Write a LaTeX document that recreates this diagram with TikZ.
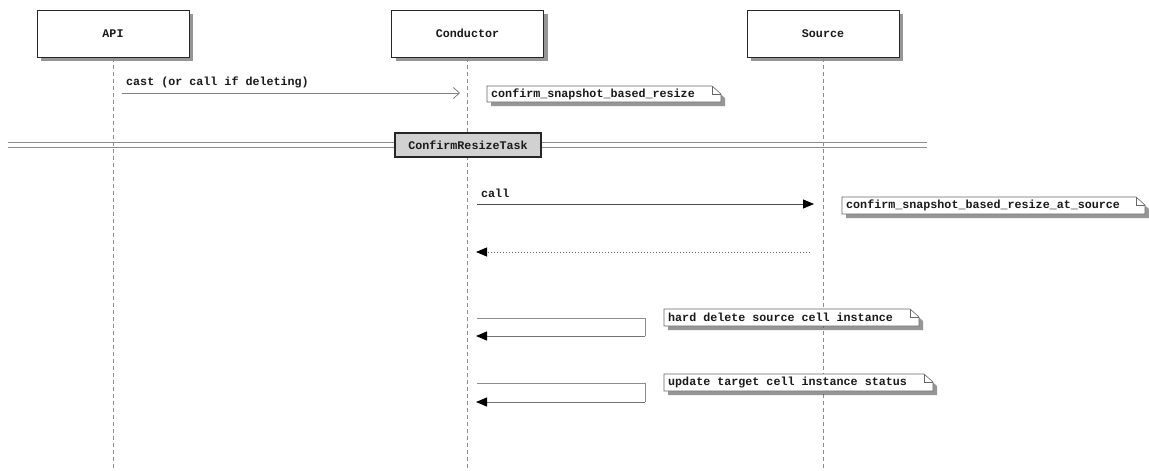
\documentclass[tikz,border=0pt]{standalone}
\usepackage{fontspec}
\setmonofont{Liberation Mono}
\usetikzlibrary{arrows.meta,shadows,calc}
\begin{document}
\begin{tikzpicture}[x=1pt,y=-1pt,
  every node/.style={font=\ttfamily\bfseries\fontsize{11.7}{13}\selectfont, text=black!90},
  partbox/.style={draw=black!85, line width=1pt, fill=white, minimum width=152pt, minimum height=47pt, inner sep=0pt,
    drop shadow={shadow xshift=4pt, shadow yshift=-4pt, opacity=0.55, fill=black!75}},
  lifeline/.style={draw=black!45, dash pattern=on 4pt off 3pt, line width=0.7pt},
  notetext/.style={inner sep=0pt, anchor=west},
  noteshape/.style={draw=black!60, line width=0.6pt, fill=white,
    drop shadow={shadow xshift=4pt, shadow yshift=-4pt, opacity=0.55, fill=black!75}},
  notefold/.style={draw=black!60, line width=0.6pt},
  asyncmsg/.style={draw=black!50, line width=0.8pt, -{Straight Barb[length=6pt,width=11pt,line width=0.8pt]}},
  syncmsg/.style={draw=black!70, line width=0.8pt, -{Triangle[length=11pt,width=9pt,fill=black,color=black]}},
  retmsg/.style={draw=black!60, line width=0.8pt, dash pattern=on 1.5pt off 1.5pt, -{Triangle[length=11pt,width=9pt,fill=black,color=black]}},
  selfmsg/.style={draw=black!45, line width=0.9pt},
  selfarr/.style={draw=black!55, line width=0.9pt, -{Triangle[length=11pt,width=9pt,fill=black,color=black]}},
  divbox/.style={draw=black!85, line width=1.2pt, fill=black!18, minimum width=146pt, minimum height=24pt, inner sep=0pt},
  msglabel/.style={anchor=base west, inner sep=0pt}
]
\useasboundingbox (0,0) rectangle (1149,471);
\fill[white] (0,0) rectangle (1149,471);

% participants
\node[partbox] (api) at (113,33.5) {API};
\node[partbox] (cond) at (467.5,33.5) {Conductor};
\node[partbox] (src) at (823,33.5) {Source};

% lifeline ends
\coordinate (apiend) at (113,471);
\coordinate (condend) at (467.5,471);
\coordinate (srcend) at (823,471);
\draw[lifeline] (api.south) -- (apiend);
\draw[lifeline] (cond.south) -- (condend);
\draw[lifeline] (src.south) -- (srcend);

% message 1
\coordinate (m1s) at (122,93);
\coordinate (m1e) at (460,93);
\draw[asyncmsg] (m1s) -- (m1e);
\node[msglabel] (m1l) at (126,85) {cast (or call if deleting)};

% note 1
\coordinate (n1nw) at (487,86);
\coordinate (n1se) at (721,102);
\draw[noteshape] (n1nw) -- ($(n1se|-n1nw)+(-9,0)$) -- ($(n1se|-n1nw)+(0,8)$) -- (n1se) -- (n1nw|-n1se) -- cycle;
\draw[notefold] ($(n1se|-n1nw)+(-9,0)$) |- ($(n1se|-n1nw)+(0,8)$);
\node[notetext] (n1) at (491,94) {confirm\_snapshot\_based\_resize};

% divider
\coordinate (dl) at (8,142.5);
\coordinate (dr) at (927,142.5);
\coordinate (dl2) at (8,147);
\coordinate (dr2) at (927,147);
\draw[draw=black!45, line width=0.9pt] (dl) -- (dr);
\draw[draw=black!45, line width=0.9pt] (dl2) -- (dr2);
\node[divbox] (div) at (468,145) {ConfirmResizeTask};

% call
\coordinate (c1s) at (477,204);
\coordinate (c1e) at (814,204);
\draw[syncmsg] (c1s) -- (c1e);
\node[msglabel] (c1l) at (481,197) {call};

% note 2
\coordinate (n2nw) at (842,197);
\coordinate (n2se) at (1145,214);
\draw[noteshape] (n2nw) -- ($(n2se|-n2nw)+(-9,0)$) -- ($(n2se|-n2nw)+(0,8)$) -- (n2se) -- (n2nw|-n2se) -- cycle;
\draw[notefold] ($(n2se|-n2nw)+(-9,0)$) |- ($(n2se|-n2nw)+(0,8)$);
\node[notetext] (n2) at (846,205.5) {confirm\_snapshot\_based\_resize\_at\_source};

% return
\coordinate (r1s) at (810,252);
\coordinate (r1e) at (476,252);
\draw[retmsg] (r1s) -- (r1e);

% self 1
\coordinate (s1a) at (477,318);
\coordinate (s1b) at (645,318);
\coordinate (s1c) at (645,336);
\coordinate (s1d) at (476,336);
\draw[selfmsg] (s1a) -- (s1b) -- (s1c);
\draw[selfarr] (s1c) -- (s1d);

% note 3
\coordinate (n3nw) at (664,309);
\coordinate (n3se) at (919,326);
\draw[noteshape] (n3nw) -- ($(n3se|-n3nw)+(-9,0)$) -- ($(n3se|-n3nw)+(0,8)$) -- (n3se) -- (n3nw|-n3se) -- cycle;
\draw[notefold] ($(n3se|-n3nw)+(-9,0)$) |- ($(n3se|-n3nw)+(0,8)$);
\node[notetext] (n3) at (668,317.5) {hard delete source cell instance};

% self 2
\coordinate (s2a) at (477,383);
\coordinate (s2b) at (645,383);
\coordinate (s2c) at (645,402);
\coordinate (s2d) at (476,402);
\draw[selfmsg] (s2a) -- (s2b) -- (s2c);
\draw[selfarr] (s2c) -- (s2d);

% note 4
\coordinate (n4nw) at (664,374);
\coordinate (n4se) at (933,391);
\draw[noteshape] (n4nw) -- ($(n4se|-n4nw)+(-9,0)$) -- ($(n4se|-n4nw)+(0,8)$) -- (n4se) -- (n4nw|-n4se) -- cycle;
\draw[notefold] ($(n4se|-n4nw)+(-9,0)$) |- ($(n4se|-n4nw)+(0,8)$);
\node[notetext] (n4) at (668,382.5) {update target cell instance status};
\end{tikzpicture}
\end{document}
